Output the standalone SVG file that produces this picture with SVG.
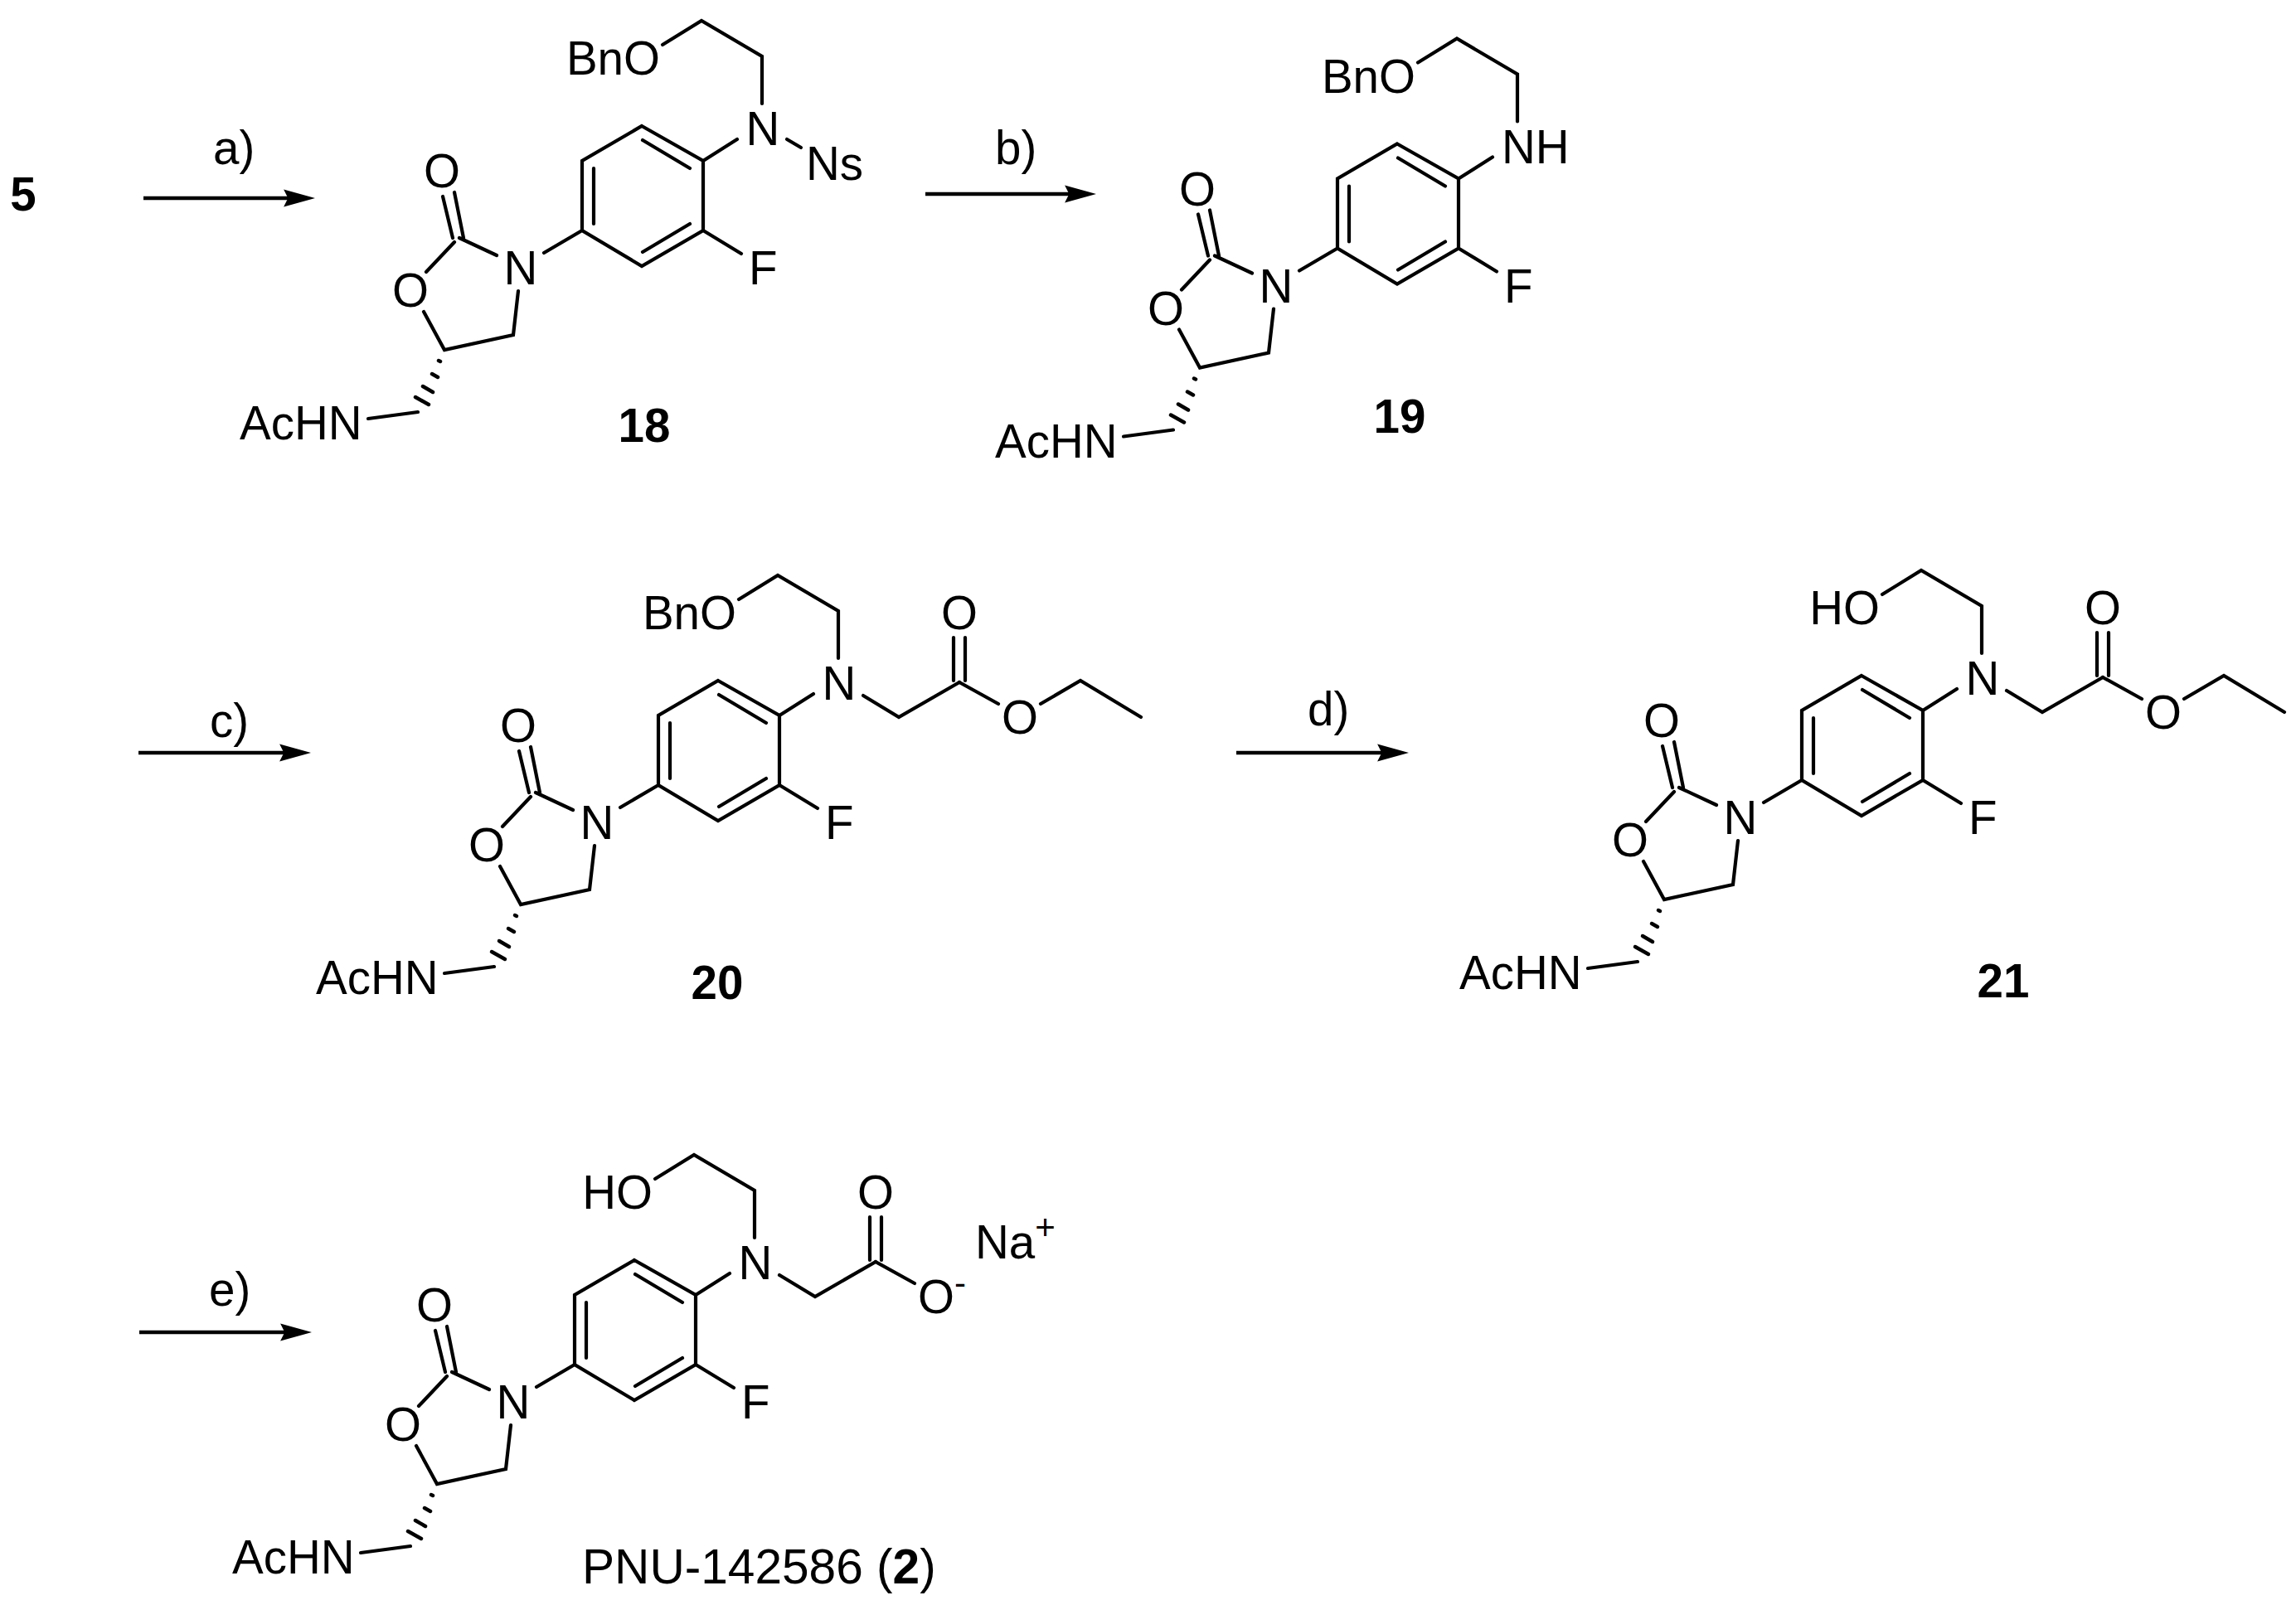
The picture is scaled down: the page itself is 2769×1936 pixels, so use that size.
<svg xmlns="http://www.w3.org/2000/svg" xmlns:xlink="http://www.w3.org/1999/xlink" width="2769" height="1936" viewBox="0 0 2769 1936">
<style>
text{font-family:"Liberation Sans",Arial,sans-serif;font-size:56.5px;fill:#000}
.m{text-anchor:middle}
.e{text-anchor:end}
.b{font-weight:bold}
.bond{fill:none;stroke:#000;stroke-width:4.2;stroke-linejoin:miter;stroke-linecap:round}
.hash{fill:none;stroke:#000;stroke-width:4.5;stroke-linecap:round}
.arrow{fill:none;stroke:#000;stroke-width:4.5}
.tip{fill:#000}
</style>
<defs>
<marker id="head" markerUnits="userSpaceOnUse" markerWidth="38" markerHeight="22" viewBox="0 0 36 20" refX="16" refY="10" orient="auto"><path class="tip" d="M0 0L36 10L0 20L5 10Z"/></marker>
<g id="core">
<path class="bond" d="M774 152L848 194V278L774 321L702 278V194ZM775 169L832 203M716 203V270M775 304L832 270M848 194L889 168M848 278L894 306M702 278L656 305M534 237L546 287M548 232L559 287M554 287L599 308M548 292L514 328M511 376L536 422L619 404L625 351"/>
<path class="hash" d="M529 435L531 436M521 451L528 455M510 466L522 473M501 479L517 488"/>
<path class="bond" d="M504 497L444 505"/>
</g>
<path id="chain" class="bond" d="M799 54L846 25L919 68V125"/>
<path id="acetate" class="bond" d="M949 170L992 196L1065 154M1058 100V152M1072 100V152"/>
<path id="ethyl" class="bond" d="M1065 154L1112 180M1163 180L1211 152L1284 196"/>
</defs>
<g id="connectors">
<line class="arrow" x1="173" y1="239" x2="359" y2="239" marker-end="url(#head)"/>
<line class="arrow" x1="1116" y1="234" x2="1301" y2="234" marker-end="url(#head)"/>
<line class="arrow" x1="167" y1="908" x2="354" y2="908" marker-end="url(#head)"/>
<line class="arrow" x1="1491" y1="908" x2="1678" y2="908" marker-end="url(#head)"/>
<line class="arrow" x1="168" y1="1607" x2="355" y2="1607" marker-end="url(#head)"/>
</g>
<g id="labels">
<text class="b m" x="28" y="254">5</text>
<text x="257" y="198">a)</text>
<text x="1200" y="198">b)</text>
<text x="253" y="889">c)</text>
<text x="1577" y="875">d)</text>
<text x="252" y="1575">e)</text>
</g>
<g id="compound-18">
<use href="#core"/><use href="#chain"/>
<path class="bond" d="M949 168L966 178"/>
<text class="e" x="796" y="90">BnO</text>
<text class="m" x="920" y="175">N</text>
<text x="972" y="217">Ns</text>
<text x="903" y="343">F</text>
<text class="m" x="628" y="343">N</text>
<text class="m" x="533" y="226">O</text>
<text class="m" x="495" y="370">O</text>
<text x="289" y="530">AcHN</text>
<text class="b m" x="777" y="533">18</text>
</g>
<g id="compound-19">
<g transform="translate(911 21.5)">
<use href="#core"/><use href="#chain"/>
<text class="e" x="796" y="90">BnO</text>
<text x="900" y="175">NH</text>
<text x="903" y="343">F</text>
<text class="m" x="628" y="343">N</text>
<text class="m" x="533" y="226">O</text>
<text class="m" x="495" y="370">O</text>
<text x="289" y="530">AcHN</text>
</g>
<text class="b m" x="1688" y="522">19</text>
</g>
<g id="compound-20">
<g transform="translate(92 669)">
<use href="#core"/><use href="#chain"/><use href="#acetate"/><use href="#ethyl"/>
<text class="e" x="796" y="90">BnO</text>
<text class="m" x="920" y="175">N</text>
<text class="m" x="1065" y="90">O</text>
<text class="m" x="1138" y="216">O</text>
<text x="903" y="343">F</text>
<text class="m" x="628" y="343">N</text>
<text class="m" x="533" y="226">O</text>
<text class="m" x="495" y="370">O</text>
<text x="289" y="530">AcHN</text>
</g>
<text class="b m" x="865" y="1205">20</text>
</g>
<g id="compound-21">
<g transform="translate(1471 663)">
<use href="#core"/><use href="#chain"/><use href="#acetate"/><use href="#ethyl"/>
<text class="e" x="796" y="90">HO</text>
<text class="m" x="920" y="175">N</text>
<text class="m" x="1065" y="90">O</text>
<text class="m" x="1138" y="216">O</text>
<text x="903" y="343">F</text>
<text class="m" x="628" y="343">N</text>
<text class="m" x="533" y="226">O</text>
<text class="m" x="495" y="370">O</text>
<text x="289" y="530">AcHN</text>
</g>
<text class="b m" x="2416" y="1203">21</text>
</g>
<g id="compound-2">
<g transform="translate(-9 1368)">
<use href="#core"/><use href="#chain"/><use href="#acetate"/>
<path class="bond" d="M1065 154L1112 180"/>
<text class="e" x="796" y="90">HO</text>
<text class="m" x="920" y="175">N</text>
<text class="m" x="1065" y="90">O</text>
<text x="1116" y="216">O<tspan font-size="42" dy="-22">-</tspan></text>
<text x="903" y="343">F</text>
<text class="m" x="628" y="343">N</text>
<text class="m" x="533" y="226">O</text>
<text class="m" x="495" y="370">O</text>
<text x="289" y="530">AcHN</text>
</g>
<text x="1176" y="1518">Na<tspan font-size="42" dy="-23">+</tspan></text>
<text x="702" y="1910" style="font-size:58.6px">PNU-142586 (<tspan class="b">2</tspan>)</text>
</g>
</svg>
